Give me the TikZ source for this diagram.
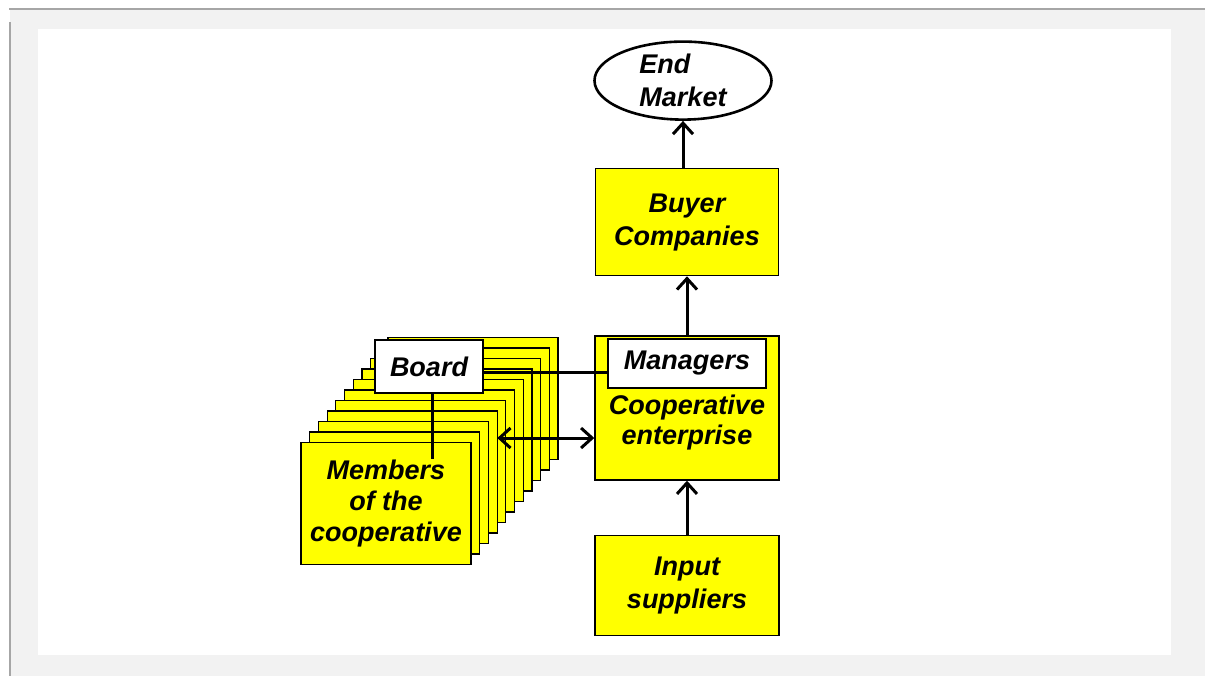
\documentclass[tikz,border=0pt]{standalone}
\usepackage{fontspec}
\setmainfont{Liberation Sans}
\usetikzlibrary{positioning,shapes,arrows.meta}
\definecolor{bgc}{HTML}{F2F2F2}
\definecolor{frm}{HTML}{A6A6A6}
\definecolor{ylw}{RGB}{255,255,0}

\begin{document}
\begin{tikzpicture}[x=0.5pt,y=-0.5pt]
    \tikzstyle{box} = [rectangle, draw, fill=ylw, line width=0.7pt, align=center, inner sep=0pt, font=\bfseries\itshape\fontsize{13.5}{16.5}\selectfont]
    \tikzstyle{wbox} = [box, fill=white]
    \tikzstyle{card} = [box, line width=0.6pt, minimum width=85pt, minimum height=61pt, font=\bfseries\itshape\fontsize{13.5}{15.5}\selectfont]
    \tikzstyle{oval} = [ellipse, draw, fill=white, line width=1.3pt, align=left, inner sep=0pt, font=\bfseries\itshape\fontsize{13.5}{16.5}\selectfont]
    \tikzstyle{txt} = [align=center, inner sep=0pt, font=\bfseries\itshape\fontsize{13.5}{15}\selectfont]
    \tikzstyle{ln} = [line width=1.5pt]
    \tikzstyle{arrow} = [ln,->,>={Straight Barb[length=5.5pt,width=10pt]}]
        \useasboundingbox (0,0) rectangle (1205,676);
        % frame
        \fill[bgc] (10,9) rectangle (1205,676);
        \fill[white] (38,29) rectangle (1171,655);
        \draw[frm, line width=1pt] (9,9) -- (1205,9);
        \draw[frm, line width=1pt] (10,22) -- (10,676);
        % chain
        \node (coop) [box, minimum width=92pt, minimum height=72pt] at (687,408) {};
        \node (mgr) [wbox, minimum width=79pt, minimum height=24.5pt, below=1.5pt of coop.north] {Managers};
        \node (coopt) [txt] at ([yshift=-7.5pt]coop.center) {Cooperative\\enterprise};
        \node (buy) [box, minimum width=91.5pt, minimum height=53.5pt, above=29.5pt of coop] {Buyer\\Companies};
        \node (end) [oval, minimum width=88.5pt, minimum height=39pt, above=23.5pt of buy, xshift=-2pt] {End\\Market};
        \node (inp) [box, minimum width=92pt, minimum height=50pt, below=27pt of coop] {Input\\suppliers};
        % members
        \foreach \i in {10,...,1}
            \node (c\i) [card] at ([shift={({-150.5pt+4.35pt*\i},{-47.75pt+5.25pt*\i})}]coop.center) {};
        \node (mem) [card] at ([shift={(-150.5pt,-47.75pt)}]coop.center) {Members\\of the\\cooperative};
        \node (brd) [wbox, minimum width=54pt, minimum height=26.5pt] at ([shift={(21.5pt,68.5pt)}]mem.center) {Board};
        % connectors
        \draw[arrow] (inp) -- (coop);
        \draw[arrow] (coop) -- (buy);
        \draw[arrow] (buy.north -| end.south) -- (end.south);
        \coordinate (bm) at ([yshift=-2.75pt]brd.east);
        \draw[ln] (bm) -- (bm -| mgr.west);
        \coordinate (bv) at ([xshift=1.5pt,yshift=-32.5pt]brd.south);
        \draw[ln] (bv |- brd.south) -- (bv);
        \coordinate (da) at ([shift={(-48.5pt,-15pt)}]coop.west);
        \draw[arrow,<->] (da) -- (da -| coop.west);
    \end{tikzpicture}
\end{document}
